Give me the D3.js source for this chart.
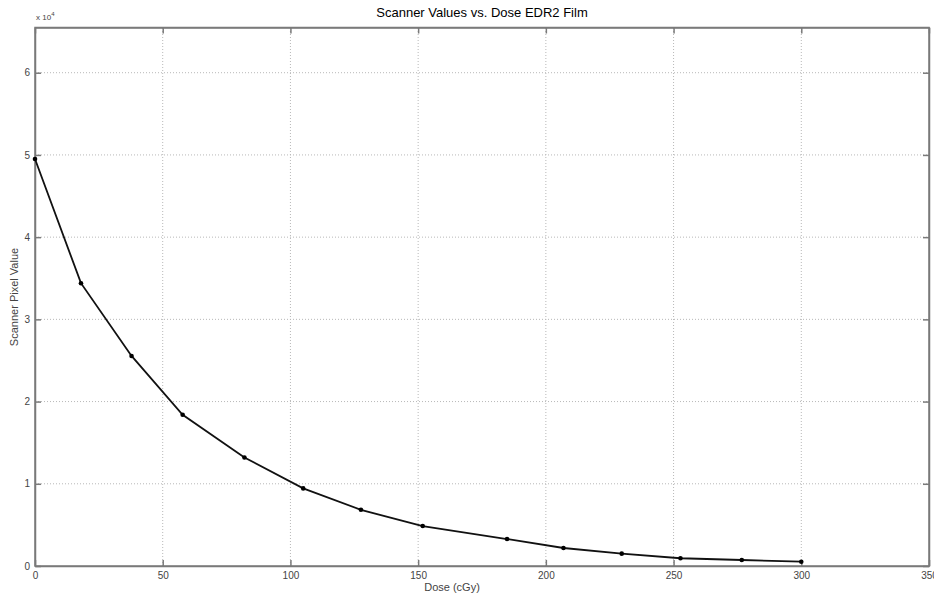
<!DOCTYPE html>
<html>
<head>
<meta charset="utf-8">
<script src="https://cdn.jsdelivr.net/npm/d3@7"></script>
<style>
  body { margin: 0; background: #fff; }
  text { font-family: "Liberation Sans", Arial, sans-serif; }
</style>
</head>
<body>
<div id="chart"></div>
<script>
// dose in cGy and scanner pixel values
var doses = [0, 18, 37.8, 57.8, 82, 105, 127.6, 151.8, 184.8, 206.9, 229.7, 252.7, 276.7, 300];
var pixelValues = [49500, 34400, 25550, 18400, 13200, 9440, 6840, 4860, 3280, 2190, 1500, 940, 730, 520];
var xTicks = [0, 50, 100, 150, 200, 250, 300, 350];
var yTicks = [0, 10000, 20000, 30000, 40000, 50000, 60000];

var width = 934, height = 597;
var margin = {top: 27.5, right: 5, bottom: 31, left: 35};

var svg = d3.select("#chart").append("svg")
  .attr("width", width)
  .attr("height", height);

var x = d3.scaleLinear().domain([0, 350]).range([margin.left, width - margin.right]);
var y = d3.scaleLinear().domain([0, 65500]).range([height - margin.bottom, margin.top]);

var gray = "#7a7a7a";

// gridlines (dotted)
svg.append("g").selectAll("line")
  .data(xTicks.slice(1, -1))
  .enter().append("line")
  .attr("x1", d => x(d)).attr("x2", d => x(d))
  .attr("y1", y.range()[0]).attr("y2", y.range()[1])
  .attr("stroke", "#b8b8b8").attr("stroke-dasharray", "1,2");

svg.append("g").selectAll("line")
  .data(yTicks.slice(1))
  .enter().append("line")
  .attr("x1", x.range()[0]).attr("x2", x.range()[1])
  .attr("y1", d => y(d)).attr("y2", d => y(d))
  .attr("stroke", "#b8b8b8").attr("stroke-dasharray", "1,2");

// axes, ticks pointing inward like matlab
svg.append("g")
  .attr("transform", "translate(0," + y(0) + ")")
  .call(d3.axisBottom(x).tickValues(xTicks).tickSizeInner(-6).tickSizeOuter(0).tickPadding(6));

svg.append("g")
  .attr("transform", "translate(" + x(0) + ",0)")
  .call(d3.axisLeft(y).tickValues(yTicks).tickFormat(d => d / 10000).tickSizeInner(-6).tickSizeOuter(0).tickPadding(5));

// right and top ticks
svg.append("g")
  .attr("transform", "translate(" + x(350) + ",0)")
  .call(d3.axisRight(y).tickValues(yTicks).tickSizeInner(-6).tickSizeOuter(0).tickFormat(""));
svg.append("g")
  .attr("transform", "translate(0," + y(65500) + ")")
  .call(d3.axisTop(x).tickValues(xTicks).tickSizeInner(-6).tickSizeOuter(0).tickFormat(""));

svg.selectAll(".domain").attr("stroke", gray).attr("stroke-width", 1.5);
svg.selectAll(".tick line").attr("stroke", gray).attr("stroke-width", 1.5);
svg.selectAll(".tick text").attr("fill", "#444").style("font-size", "10px");

// frame box
svg.append("rect")
  .attr("x", x(0)).attr("y", y(65500))
  .attr("width", x(350) - x(0)).attr("height", y(0) - y(65500))
  .attr("fill", "none").attr("stroke", gray).attr("stroke-width", 1.5);

// exponent label
var expo = svg.append("text")
  .attr("x", x(0) + 1).attr("y", y(65500) - 8)
  .attr("fill", "#444").style("font-size", "8px")
  .text("x 10");
expo.append("tspan").attr("dy", -4).style("font-size", "6px").text("4");

// data line
var line = d3.line()
  .x((d, i) => x(doses[i]))
  .y(d => y(d));

svg.append("path")
  .datum(pixelValues)
  .attr("d", line)
  .attr("fill", "none")
  .attr("stroke", "#111")
  .attr("stroke-width", 1.8);

svg.append("g").selectAll("circle")
  .data(pixelValues)
  .enter().append("circle")
  .attr("cx", (d, i) => x(doses[i]))
  .attr("cy", d => y(d))
  .attr("r", 2.3)
  .attr("fill", "#000");

// labels
svg.append("text")
  .attr("x", 482).attr("y", 17)
  .attr("text-anchor", "middle")
  .style("font-size", "13px")
  .attr("fill", "#000")
  .text("Scanner Values vs. Dose EDR2 Film");

svg.append("text")
  .attr("x", 452).attr("y", 591)
  .attr("text-anchor", "middle")
  .style("font-size", "11px")
  .attr("fill", "#444")
  .text("Dose (cGy)");

svg.append("text")
  .attr("transform", "translate(18," + 297 + ") rotate(-90)")
  .attr("text-anchor", "middle")
  .style("font-size", "11px")
  .attr("fill", "#444")
  .text("Scanner Pixel Value");
</script>
</body>
</html>
